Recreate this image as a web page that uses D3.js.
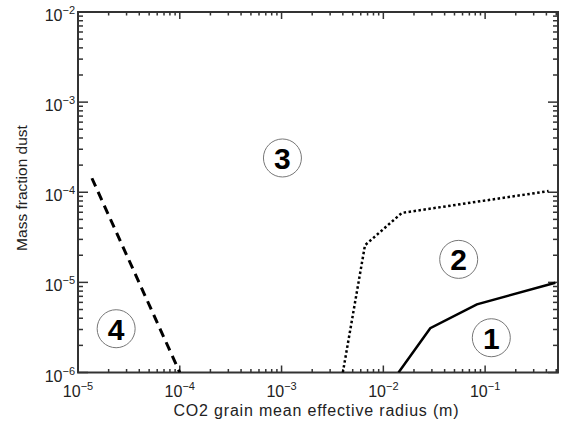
<!DOCTYPE html>
<html>
<head>
<meta charset="utf-8">
<script src="https://cdn.jsdelivr.net/npm/d3@7.9.0/dist/d3.min.js"></script>
<style>
  body { margin: 0; background: #fff; }
  svg { font-family: "Liberation Sans", Arial, sans-serif; }
</style>
</head>
<body>
<svg id="chart" width="561" height="421"></svg>
<script>
// curve boundaries (x: radius in m, y: mass fraction)
const solidX = [0.0141, 0.0289, 0.083, 0.49]
const solidY = [1.0e-6, 3.1e-6, 5.7e-6, 9.9e-6]
const dottedX = [0.0040, 0.0066, 0.0152, 0.42]
const dottedY = [1.0e-6, 2.58e-5, 5.9e-5, 1.03e-4]
const dashedX = [1.37e-5, 1.0e-4]
const dashedY = [1.43e-4, 1.0e-6]

// region labels
const regionNames = ['1', '2', '3', '4']
const regionX = [0.115, 0.055, 1.02e-3, 2.37e-5]
const regionY = [2.43e-6, 1.8e-5, 2.4e-4, 3.06e-6]

const xExps = [-5, -4, -3, -2, -1]
const yExps = [-6, -5, -4, -3, -2]

const mLeft = 78, mRight = 558, mTop = 12, mBottom = 372.5
const svg = d3.select('#chart')

const x = d3.scaleLog().domain([1e-5, 0.52]).range([mLeft, mRight])
const y = d3.scaleLog().domain([1e-6, 1e-2]).range([mBottom, mTop])

const axisColor = '#333'

// frame
svg.append('rect')
    .attr('x', mLeft).attr('y', mTop)
    .attr('width', mRight - mLeft).attr('height', mBottom - mTop)
    .attr('fill', 'none').attr('stroke', axisColor).attr('stroke-width', 2)

const isMajor = (v) => Math.abs(Math.log10(v) - Math.round(Math.log10(v))) < 1e-6

// x ticks, bottom and top, pointing inward
x.ticks().forEach((v) => {
    let len = isMajor(v) ? 7 : 3.5
    let px = x(v)
    svg.append('line').attr('x1', px).attr('x2', px)
        .attr('y1', mBottom).attr('y2', mBottom - len)
        .attr('stroke', axisColor).attr('stroke-width', 1.5)
    svg.append('line').attr('x1', px).attr('x2', px)
        .attr('y1', mTop).attr('y2', mTop + len)
        .attr('stroke', axisColor).attr('stroke-width', 1.5)
})

// y ticks, left and right
y.ticks().forEach((v) => {
    let len = isMajor(v) ? 10 : 5
    let py = y(v)
    svg.append('line').attr('x1', mLeft).attr('x2', mLeft + len)
        .attr('y1', py).attr('y2', py)
        .attr('stroke', axisColor).attr('stroke-width', 1.5)
    svg.append('line').attr('x1', mRight).attr('x2', mRight - len)
        .attr('y1', py).attr('y2', py)
        .attr('stroke', axisColor).attr('stroke-width', 1.5)
})

function powerLabel(sel, e) {
    sel.append('tspan').text('10')
    sel.append('tspan').attr('dy', -7).attr('font-size', 11).text('\u2212' + Math.abs(e))
}

xExps.forEach((e) => {
    let t = svg.append('text')
        .attr('x', x(Math.pow(10, e))).attr('y', 397)
        .attr('text-anchor', 'middle')
        .attr('font-size', 16).attr('fill', '#222')
    powerLabel(t, e)
})

yExps.forEach((e) => {
    let t = svg.append('text')
        .attr('x', 75).attr('y', y(Math.pow(10, e)) + 9)
        .attr('text-anchor', 'end')
        .attr('font-size', 16).attr('fill', '#222')
    powerLabel(t, e)
})

svg.append('text')
    .attr('x', 316).attr('y', 416)
    .attr('text-anchor', 'middle')
    .attr('font-size', 16).attr('fill', '#222')
    .attr('textLength', 285).attr('lengthAdjust', 'spacing')
    .text('CO2 grain mean effective radius (m)')

svg.append('text')
    .attr('transform', 'translate(27,188) rotate(-90)')
    .attr('text-anchor', 'middle')
    .attr('font-size', 15.5).attr('fill', '#222')
    .text('Mass fraction dust')

// clip curves to the plot box
svg.append('clipPath').attr('id', 'box')
    .append('rect').attr('x', mLeft).attr('y', mTop)
    .attr('width', mRight - mLeft).attr('height', mBottom - mTop)

const line = d3.line().x((d) => x(d[0])).y((d) => y(d[1]))

function drawCurve(xs, ys, dash, width) {
    svg.append('path')
        .attr('d', line(d3.zip(xs, ys)))
        .attr('fill', 'none')
        .attr('stroke', '#000')
        .attr('stroke-width', width)
        .attr('stroke-dasharray', dash)
        .attr('clip-path', 'url(#box)')
}

drawCurve(solidX, solidY, null, 2.5)
drawCurve(dottedX, dottedY, '2.5,2.5', 2.5)
drawCurve(dashedX, dashedY, '9,6', 3)

regionNames.forEach((name, i) => {
    let cx = x(regionX[i]), cy = y(regionY[i])
    svg.append('circle')
        .attr('cx', cx).attr('cy', cy).attr('r', 19)
        .attr('fill', 'none').attr('stroke', '#777').attr('stroke-width', 1)
    svg.append('text')
        .attr('x', cx).attr('y', cy + 11)
        .attr('text-anchor', 'middle')
        .attr('font-size', 30).attr('font-weight', 'bold')
        .text(name)
})
</script>
</body>
</html>
